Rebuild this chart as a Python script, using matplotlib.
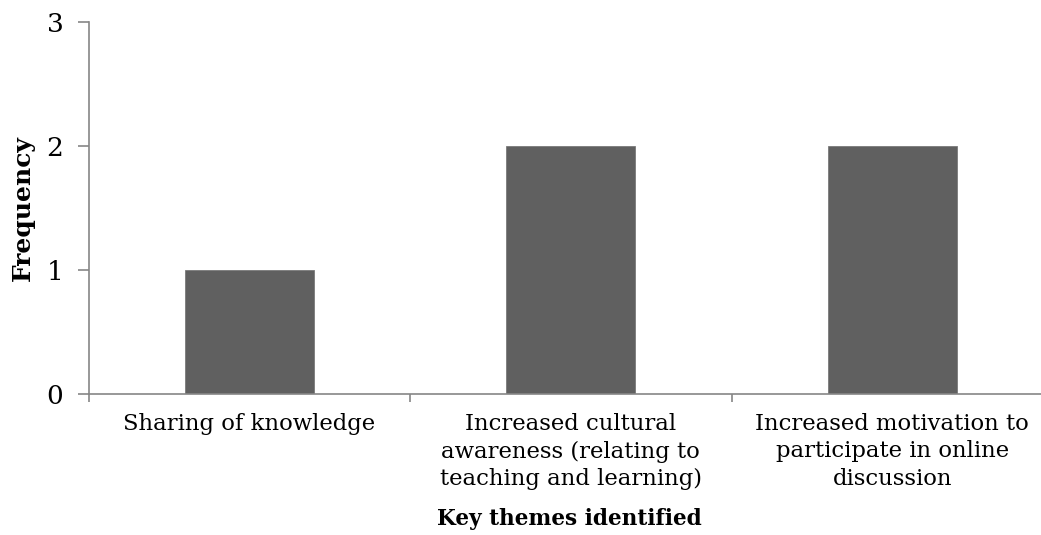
import matplotlib
matplotlib.use("Agg")
import matplotlib.pyplot as plt
import numpy as np

# --- Data ---
themes = [
    "Sharing of knowledge",
    "Increased cultural\nawareness (relating to\nteaching and learning)",
    "Increased motivation to\nparticipate in online\ndiscussion",
]
frequency = [1, 2, 2]

plt.rcParams['font.family'] = ['DejaVu Serif']

fig = plt.figure(figsize=(10.41, 5.35), dpi=100)
ax = fig.add_axes([88.5 / 1041, 141.5 / 535, 964.5 / 1041, 371.5 / 535])

x = np.arange(len(themes))
ax.bar(x, frequency, width=0.4, color='#606060', edgecolor='#7a7a7a', linewidth=0.6)

ax.set_xlim(-0.5, len(themes) - 0.5)
ax.set_ylim(0, 3)
ax.set_yticks([0, 1, 2, 3])
ax.tick_params(axis='y', length=8, width=1.2, color='#868686', labelsize=19, pad=10)

ax.set_xticks(x)
ax.set_xticklabels(themes, fontsize=16.4, linespacing=1.32)
ax.tick_params(axis='x', length=0, pad=14)
# boundary ticks between categories
ax.set_xticks(np.arange(len(themes) + 1) - 0.5, minor=True)
ax.tick_params(axis='x', which='minor', length=6, width=1.2, color='#868686')

for side in ['top', 'right']:
    ax.spines[side].set_visible(False)
for side in ['left', 'bottom']:
    ax.spines[side].set_color('#868686')
    ax.spines[side].set_linewidth(1.2)

ax.set_ylabel('Frequency', fontsize=18, fontweight='bold')
ax.yaxis.set_label_coords(-54 / 964.5, 0.5)
ax.set_xlabel('Key themes identified', fontsize=15.6, fontweight='bold')
ax.xaxis.set_label_coords(481 / 964.5, -115 / 371.5)

fig.savefig('out.png', dpi=100)
